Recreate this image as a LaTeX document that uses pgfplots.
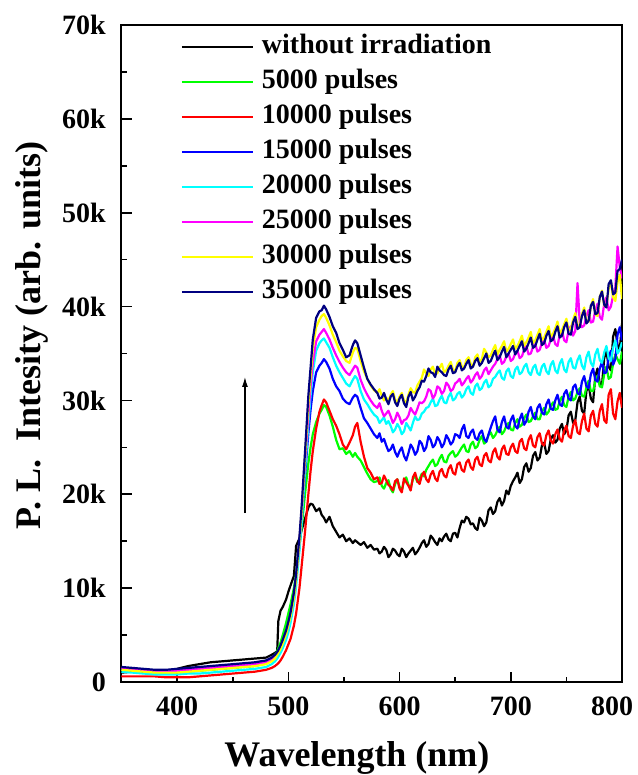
\documentclass[border=0pt]{standalone}
\usepackage{fontspec}
\setmainfont{Liberation Serif}
\usepackage{pgfplots}
\pgfplotsset{compat=1.18}
\usepackage{pgfplotstable}
\usetikzlibrary{arrows.meta}
\definecolor{cgreen}{RGB}{0,255,0}
\definecolor{cred}{RGB}{255,0,0}
\definecolor{cblue}{RGB}{0,0,255}
\definecolor{ccyan}{RGB}{0,255,255}
\definecolor{cmag}{RGB}{255,0,255}
\definecolor{cyel}{RGB}{255,255,0}
\definecolor{cnavy}{RGB}{0,0,128}
\pgfplotstableread{
x blk g r b c m y n
350 1.0 1.3 0.6 1.4 1.1 1.5 1.3 1.6
360 1.1 1.2 0.6 1.3 1.0 1.4 1.2 1.5
370 1.0 1.1 0.6 1.2 0.9 1.3 1.1 1.4
380 1.1 1.0 0.6 1.1 0.8 1.2 1.0 1.3
390 1.2 1.0 0.5 1.1 0.8 1.2 1.0 1.3
400 1.4 1.0 0.5 1.2 0.8 1.2 1.0 1.4
410 1.7 1.1 0.5 1.3 0.9 1.3 1.1 1.5
420 1.9 1.2 0.6 1.4 0.9 1.4 1.2 1.6
430 2.1 1.3 0.7 1.5 1.0 1.5 1.3 1.7
440 2.2 1.4 0.8 1.6 1.1 1.6 1.4 1.8
450 2.3 1.5 0.9 1.7 1.2 1.7 1.5 1.9
460 2.4 1.6 1.0 1.8 1.3 1.8 1.6 2.0
470 2.5 1.7 1.1 1.9 1.4 1.9 1.7 2.1
480 2.6 2.0 1.3 2.2 1.6 2.1 1.9 2.3
485 2.9 2.4 1.5 2.5 1.9 2.4 2.2 2.6
488 3.1 2.9 1.7 2.8 2.2 2.7 2.5 2.9
490 3.3 3.3 1.9 3.1 2.5 3.0 2.9 3.2
491 6.5 3.6 2.0 3.3 2.7 3.2 3.1 3.4
493 7.6 4.2 2.3 3.8 3.1 3.6 3.5 3.9
495 8.0 5.0 2.7 4.3 3.6 4.2 4.1 4.5
498 8.8 6.3 3.4 5.3 4.5 5.2 5.1 5.5
500 9.6 7.3 4.0 6.2 5.3 6.1 6.0 6.4
502 10.3 8.3 4.6 7.2 6.3 7.1 7.0 7.4
505 11.3 10.0 6.0 9.2 8.3 9.2 9.0 9.5
507 14.5 11.5 7.3 11.0 10.2 11.2 11.0 11.5
510 15.3 14.5 10.0 14.5 14.0 15.0 15.0 15.5
512 16.2 16.5 12.4 17.3 17.0 18.0 18.2 18.8
515 17.4 20.0 16.0 22.0 22.5 23.5 24.0 24.5
518 18.6 23.3 20.0 26.5 27.5 28.5 29.5 30.5
520 19.0 25.0 22.5 29.0 30.5 31.5 32.5 33.5
522 18.9 26.4 24.6 31.0 33.0 34.0 35.5 36.5
525 18.2 27.7 27.0 33.0 35.3 36.3 37.8 38.8
528 18.5 28.6 28.8 33.7 36.1 37.0 38.6 39.5
530 17.8 29.0 29.5 34.0 36.4 37.3 39.0 39.6
532 17.5 29.5 30.1 34.4 36.6 37.6 39.2 40.1
534 17.0 29.3 29.8 34.1 36.2 37.2 38.8 39.7
537 17.6 28.4 28.9 33.4 35.6 36.5 38.0 38.9
540 16.6 27.2 28.0 32.3 34.6 35.6 37.0 37.9
543 16.0 25.8 27.3 31.5 33.7 34.8 36.2 37.2
546 15.4 24.8 26.4 31.0 33.0 34.1 35.3 36.1
549 15.7 24.9 25.3 30.2 32.4 33.5 34.7 35.4
552 15.0 24.3 24.8 29.8 31.8 33.0 34.2 34.6
555 15.3 24.6 25.5 29.6 31.5 32.7 34.0 34.8
558 14.8 24.0 26.3 30.3 32.2 33.3 35.1 35.9
560 15.1 24.4 27.2 30.6 32.6 33.7 35.6 36.4
562 14.9 24.0 27.6 30.4 32.3 33.5 35.5 36.1
565 14.6 23.6 25.6 29.2 31.0 32.2 34.2 34.8
568 14.9 22.9 24.0 28.1 30.1 31.3 33.1 33.5
571 14.3 22.2 22.8 27.6 29.6 30.6 32.3 32.3
574 14.6 21.6 22.3 27.0 29.0 30.0 31.6 31.7
577 14.1 21.3 21.6 26.4 28.5 29.5 31.1 31.2
580 14.2 21.4 21.8 26.0 28.2 29.2 30.8 30.8
582 13.7 21.8 21.1 26.5 27.6 29.7 31.2 30.2
584 13.9 20.9 21.2 25.6 27.9 28.9 30.5 30.3
586 14.4 20.6 22.0 25.9 28.2 28.3 30.0 30.8
588 14.1 21.2 21.5 25.2 27.5 28.6 30.3 30.1
590 13.3 21.5 21.0 24.6 27.8 28.9 29.9 29.6
592 13.6 20.6 20.8 24.8 27.3 28.3 30.6 30.4
594 14.2 20.2 20.4 25.3 26.6 27.6 31.0 30.7
596 14.0 21.1 21.4 24.5 26.9 28.0 30.1 29.8
598 13.6 21.6 21.6 24.0 27.5 28.7 29.8 29.4
600 13.4 20.8 20.6 24.6 27.1 28.2 30.4 30.2
602 14.2 20.4 20.2 25.0 26.4 27.5 30.8 30.6
604 13.9 21.4 21.7 24.1 26.7 27.9 30.0 29.7
606 13.3 21.8 21.3 23.6 27.6 28.0 29.8 29.3
608 13.7 21.0 20.9 24.4 27.2 28.4 30.6 30.4
610 14.0 20.7 20.4 25.3 26.8 29.2 31.3 30.9
612 14.3 21.6 21.8 24.9 27.6 28.8 30.9 30.0
614 13.6 22.0 22.3 24.2 28.3 28.5 30.8 30.4
616 13.9 21.3 21.4 24.6 27.9 29.1 31.6 31.0
618 14.3 21.6 21.1 25.7 28.0 29.8 32.0 31.4
620 14.8 22.2 22.0 25.4 28.6 29.7 32.4 32.1
622 15.1 21.9 22.4 24.6 28.8 29.9 33.3 32.0
624 14.4 22.6 21.6 25.0 29.2 30.4 32.9 32.6
626 14.7 23.0 21.3 26.2 29.3 31.2 32.6 33.4
628 15.6 23.4 22.1 25.8 29.8 31.0 33.3 33.0
630 15.3 23.7 22.5 25.0 30.2 30.2 33.6 32.9
632 14.9 23.0 21.7 25.3 29.4 30.6 32.8 32.5
634 14.6 23.2 21.4 26.1 29.5 31.5 32.9 33.6
636 15.3 23.8 22.4 25.7 30.1 31.3 33.5 33.2
638 15.0 24.2 22.7 25.0 30.5 30.7 33.9 33.0
640 15.5 23.5 22.0 25.4 29.8 31.0 33.0 32.7
642 15.8 23.4 21.8 26.3 29.7 31.9 33.2 32.6
644 15.2 24.1 22.7 25.9 30.4 31.6 33.7 33.3
646 15.0 24.4 23.1 25.3 30.8 31.0 34.1 33.7
648 15.8 24.6 22.3 25.6 30.0 31.2 33.3 32.9
650 15.9 24.0 22.1 26.4 30.2 31.8 33.1 33.0
652 15.4 24.2 23.2 26.3 30.7 32.0 34.0 33.6
654 16.4 24.6 23.4 26.0 30.9 32.3 34.3 34.0
656 17.2 25.0 22.6 26.9 30.3 31.6 33.6 33.2
658 17.0 25.3 22.4 27.4 30.6 31.9 33.5 33.4
660 17.6 24.6 23.4 26.2 31.2 32.3 34.3 33.9
662 17.4 24.5 23.7 26.0 31.5 32.6 34.6 34.3
664 16.8 25.3 22.9 26.6 30.8 31.9 33.9 33.4
666 16.9 25.6 22.6 26.9 30.6 32.2 33.6 33.6
668 16.4 24.9 23.7 26.0 31.5 32.7 34.6 34.2
670 16.2 25.1 24.0 25.8 31.8 33.0 34.9 34.5
672 17.5 25.8 23.2 26.5 31.1 32.3 34.1 33.7
674 17.2 26.2 23.0 26.8 31.3 32.6 34.4 34.0
676 16.6 25.4 24.1 25.9 31.9 33.2 35.5 34.5
678 17.0 25.6 24.4 25.6 32.2 33.5 35.1 35.0
680 18.3 26.3 23.6 26.4 31.4 32.8 34.6 34.0
682 18.6 26.6 23.4 27.1 31.6 33.2 34.8 34.2
684 17.9 26.0 24.5 27.8 32.3 33.6 35.4 34.8
686 18.2 26.3 24.9 28.3 32.5 33.9 35.9 35.3
688 19.2 26.8 24.0 26.9 32.9 34.4 34.9 34.3
690 19.6 27.2 23.7 26.6 33.2 34.8 35.4 34.6
692 18.8 26.4 24.8 27.7 32.4 33.9 35.8 35.2
694 19.3 26.7 25.2 28.3 32.2 34.1 36.3 35.7
696 20.4 27.3 24.3 27.2 33.1 34.7 35.2 34.6
698 20.0 27.6 24.2 27.0 33.4 35.0 35.5 35.0
700 20.9 26.9 25.0 27.9 32.6 34.2 36.0 35.4
702 21.4 26.8 25.4 28.4 32.4 34.4 36.5 35.8
704 21.8 27.6 24.6 27.3 33.3 35.0 35.5 34.9
706 22.3 28.0 24.4 27.0 33.6 35.3 35.8 35.3
708 21.2 27.2 25.6 28.0 32.8 34.5 36.3 35.8
710 21.6 27.4 25.9 28.6 33.0 34.7 36.9 36.3
712 22.9 28.1 24.9 27.4 33.6 35.4 35.8 35.2
714 23.3 28.5 24.7 27.8 33.9 35.8 36.2 35.5
716 22.4 27.7 25.8 28.8 33.0 34.9 36.7 36.1
718 22.8 27.8 26.3 29.3 32.7 35.0 37.3 36.7
720 24.1 28.3 25.2 28.3 33.5 35.7 36.1 35.6
722 24.5 28.7 25.0 28.0 33.8 36.0 36.4 35.8
724 23.6 28.0 26.1 29.2 32.9 35.2 37.0 36.5
726 23.9 28.0 26.5 29.6 32.7 35.4 37.6 37.1
728 25.2 28.8 25.4 28.7 33.6 36.1 36.4 35.9
730 25.5 29.2 25.2 28.5 33.9 36.5 36.7 36.1
732 24.3 28.5 26.3 29.6 33.1 35.6 37.3 36.9
734 24.6 28.8 26.8 30.1 32.8 35.8 37.9 37.4
736 25.9 29.4 25.7 29.1 33.8 36.5 36.8 36.3
738 26.3 29.8 25.4 29.0 34.2 36.9 37.1 36.5
740 25.5 29.0 26.4 30.0 33.2 36.0 37.7 37.3
742 25.8 29.1 26.9 30.6 32.9 35.8 38.4 37.9
744 27.0 29.9 25.9 29.6 33.9 37.0 37.1 36.7
746 27.5 30.4 25.6 29.4 34.4 37.5 37.5 36.9
748 26.4 29.5 26.8 30.7 33.3 36.4 38.1 37.8
750 26.8 29.3 27.3 31.1 33.0 36.2 38.7 38.3
752 28.4 30.4 26.2 30.2 34.1 37.5 37.5 37.1
754 28.8 30.9 26.0 30.0 34.5 37.9 37.6 37.0
756 27.6 30.0 27.3 31.4 33.5 36.9 38.6 38.3
758 27.9 30.2 27.9 31.7 33.4 37.4 39.3 38.9
760 29.8 30.9 26.6 30.8 34.3 42.5 37.9 37.6
762 30.4 31.3 26.4 30.6 34.8 38.3 38.0 37.8
764 28.9 30.5 27.8 32.0 33.7 37.8 39.2 39.0
766 28.6 30.4 28.6 32.6 33.3 38.0 39.9 39.6
768 31.0 31.4 27.0 31.5 34.6 39.0 38.5 38.2
770 31.6 32.1 26.7 31.3 35.2 39.6 38.4 38.5
772 30.2 31.0 28.4 32.8 34.0 38.3 40.0 40.1
774 29.8 31.0 28.9 33.4 33.6 38.4 40.8 40.5
776 32.6 32.0 27.5 32.2 34.9 39.6 39.2 39.2
778 33.4 32.6 27.2 32.0 35.5 40.3 39.0 39.3
780 31.8 31.5 28.9 33.4 34.3 38.9 41.0 41.0
782 31.6 31.4 29.6 34.1 34.0 38.6 41.7 41.6
784 34.5 32.8 27.9 32.9 35.1 40.3 40.1 40.2
786 35.3 33.6 27.6 33.0 35.8 41.0 40.0 39.9
788 33.6 32.3 30.6 34.6 34.5 39.6 41.9 42.4
790 33.2 32.5 31.2 35.3 34.2 40.0 42.6 42.8
792 36.8 33.9 28.6 33.8 35.6 41.2 41.0 41.3
794 37.6 34.9 28.0 34.4 36.4 42.0 40.6 41.5
796 35.9 34.4 29.9 37.0 35.0 46.4 42.6 43.8
798 35.4 33.9 30.8 37.8 35.4 44.2 43.4 44.0
800 38.2 35.2 29.2 36.4 36.2 43.0 40.8 45.0
}\data

\begin{document}
\begin{tikzpicture}
\begin{axis}[
  scale only axis, width=500.5pt, height=657pt,
  xmin=350, xmax=800, ymin=0, ymax=70,
  xtick={400,500,600,700},
  extra x ticks={800},
  extra x tick style={xticklabel style={xshift=-10pt}},
  minor xtick={350,450,550,650,750},
  ytick={0,10,20,30,40,50,60,70},
  yticklabels={0,10k,20k,30k,40k,50k,60k,70k},
  minor ytick={5,15,25,35,45,55,65},
  xtick pos=bottom, ytick pos=left, tick align=inside,
  major tick length=10pt, minor tick length=5pt,
  every tick/.style={line width=1.6pt, black},
  axis line style={line width=2pt},
  /pgf/number format/assume math mode=true,
  ticklabel style={font=\fontsize{28}{28}\selectfont\bfseries, inner sep=0pt},
  xticklabel shift=15pt, yticklabel shift=15.5pt,
  xlabel={Wavelength (nm)},
  ylabel={P. L.\ \ Intesity (arb. units)},
  label style={font=\fontsize{36}{36}\selectfont\bfseries},
  xlabel style={at={(axis description cs:0.4705,-0.1279)}, anchor=base},
  ylabel style={at={(axis description cs:-0.1628,0.527)}, anchor=base},
  legend cell align=left,
  legend style={at={(axis description cs:0.112,0.99)}, anchor=north west,
    draw=none, fill=none, font=\fontsize{28}{28}\selectfont\bfseries,
    nodes={inner sep=0pt, text height=20pt, text depth=6pt},
    row sep=9pt, /tikz/every odd column/.append style={column sep=8pt}},
  legend image code/.code={\draw[#1,line width=2.2pt] (0pt,0pt) -- (71pt,0pt);},
  every axis plot/.append style={line width=2.2pt, line join=round},
]
\addplot[black] table[x=x,y=blk] {\data};
\addlegendentry{without irradiation}
\addplot[cgreen] table[x=x,y=g] {\data};
\addlegendentry{5000 pulses}
\addplot[cred] table[x=x,y=r] {\data};
\addlegendentry{10000 pulses}
\addplot[cblue] table[x=x,y=b] {\data};
\addlegendentry{15000 pulses}
\addplot[ccyan] table[x=x,y=c] {\data};
\addlegendentry{20000 pulses}
\addplot[cmag] table[x=x,y=m] {\data};
\addlegendentry{25000 pulses}
\addplot[cyel] table[x=x,y=y] {\data};
\addlegendentry{30000 pulses}
\addplot[cnavy] table[x=x,y=n] {\data};
\addlegendentry{35000 pulses}
\draw[-{Latex[length=10pt,width=6pt]}, line width=1.2pt] (axis cs:461,18) -- (axis cs:461,32.5);
\coordinate (SW) at (rel axis cs:0,0);
\coordinate (NE) at (rel axis cs:1,1);
\end{axis}
\pgfresetboundingbox
\path[use as bounding box] (SW) ++(-121.5pt,-93pt) rectangle ([shift={(16pt,25pt)}]NE);
\end{tikzpicture}
\end{document}
